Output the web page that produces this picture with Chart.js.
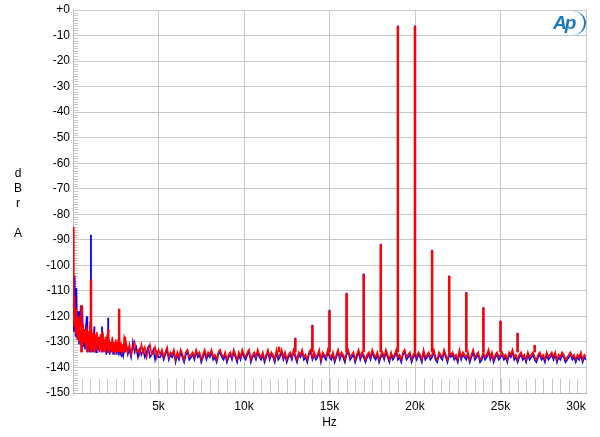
<!DOCTYPE html>
<html>
<head>
<meta charset="utf-8">
<script src="https://cdn.jsdelivr.net/npm/chart.js@4.4.1/dist/chart.umd.min.js"></script>
<style>
  html, body { margin: 0; padding: 0; background: #fff; }
  #wrap { position: relative; width: 600px; height: 437px; }
  #ylabel { position: absolute; left: 10px; top: 166px; width: 16px; text-align: center;
            font: 12px Arial, "Liberation Sans", sans-serif; line-height: 15px; color: #000; }
  #logo { position: absolute; left: 553px; top: 12px; width: 30px; height: 22px; color: #1b78c0;
          font: italic bold 19px Arial, "Liberation Sans", sans-serif; letter-spacing: -2px; line-height: 22px; }
  #logo::after { content: ''; position: absolute; left: 7px; top: -1px; width: 24px; height: 24px;
                 border-right: 2px solid #1b78c0; border-radius: 50%; }
</style>
</head>
<body>
<div id="wrap">
  <canvas id="myChart" width="600" height="437"></canvas>
  <div id="ylabel">d<br>B<br>r<br><br>A</div>
  <div id="logo">Ap</div>
</div>
<script>
// FFT noise floor, 0 - 3 kHz in 50 Hz bins
const lowStep = 50
const blueLow = [-112,-126,-104,-128,-109,-129,-118,-131,-122,-116,-132,-116,-132,-125,-133,-124,-120,-133,-126,-134,
  -128,-127,-131,-134,-126,-132,-128,-134,-127,-133,-129,-134,-128,-133,-127,-134,-130,-133,-129,-135,
  -128,-134,-130,-135,-131,-134,-129,-135,-131,-134,-130,-135,-132,-134,-131,-135,-132,-136,-131,-135,-133]
const redLow = [-85,-124,-112,-127,-117,-129,-120,-130,-121,-131,-122,-132,-123,-130,-125,-132,-124,-131,-126,-133,
  -122,-127,-127,-133,-125,-132,-127,-133,-126,-132,-128,-134,-127,-133,-126,-133,-129,-134,-128,-133,
  -127,-134,-129,-133,-130,-134,-128,-134,-130,-135,-129,-134,-131,-134,-130,-133,-130,-135,-131,-134,-128]

// FFT noise floor, 3.1 - 30 kHz in 100 Hz bins
const highStart = 3100
const highStep = 100
const blueHigh = [
  -131,-135,-133,-136,-130,-134,-132,-136,-133,-135,
  -133,-136,-134,-132,-136,-135,-133,-137,-134,-136,
  -136,-134,-137,-135,-133,-137,-135,-136,-134,-138,
  -135,-137,-134,-136,-138,-135,-134,-137,-136,-135,
  -137,-134,-136,-135,-138,-136,-134,-137,-135,-136,
  -134,-137,-136,-138,-135,-134,-136,-137,-135,-138,
  -136,-135,-137,-134,-136,-138,-135,-137,-134,-136,
  -137,-135,-134,-138,-136,-135,-137,-134,-136,-137,
  -135,-138,-136,-134,-137,-135,-136,-138,-134,-137,
  -136,-134,-137,-135,-138,-136,-135,-137,-134,-136,
  -138,-135,-136,-134,-137,-136,-138,-135,-134,-137,
  -135,-137,-136,-134,-138,-135,-136,-137,-134,-136,
  -137,-135,-138,-136,-134,-137,-135,-136,-138,-135,
  -134,-137,-136,-135,-138,-136,-134,-137,-135,-136,
  -138,-136,-135,-137,-134,-136,-137,-135,-138,-136,
  -135,-137,-134,-136,-138,-135,-137,-136,-134,-137,
  -136,-138,-135,-134,-137,-136,-135,-138,-136,-135,
  -137,-135,-136,-138,-134,-137,-136,-135,-137,-136,
  -134,-137,-138,-135,-136,-137,-134,-136,-138,-135,
  -136,-135,-137,-136,-138,-134,-137,-135,-136,-137,
  -135,-138,-136,-134,-137,-136,-135,-138,-137,-135,
  -137,-136,-134,-137,-135,-138,-136,-135,-137,-136,
  -135,-137,-136,-138,-135,-136,-134,-137,-136,-138,
  -136,-135,-137,-136,-138,-135,-137,-136,-135,-137,
  -138,-136,-135,-137,-136,-138,-135,-137,-136,-135,
  -137,-135,-138,-136,-137,-135,-136,-138,-137,-136,
  -135,-137,-136,-138,-136,-137,-135,-138,-136,-137]
const redHigh = [
  -130,-134,-131,-135,-132,-130,-134,-133,-135,-131,
  -134,-132,-136,-133,-131,-135,-134,-132,-136,-133,
  -135,-133,-136,-134,-132,-136,-134,-135,-133,-137,
  -134,-136,-133,-135,-137,-134,-133,-136,-135,-134,
  -136,-133,-135,-134,-137,-135,-133,-136,-134,-135,
  -133,-136,-135,-137,-134,-133,-135,-136,-134,-137,
  -135,-134,-136,-133,-135,-137,-134,-136,-133,-135,
  -136,-134,-133,-137,-135,-134,-136,-133,-135,-136,
  -134,-137,-135,-133,-136,-134,-135,-137,-133,-136,
  -135,-133,-136,-134,-137,-135,-134,-136,-133,-135,
  -137,-134,-135,-133,-136,-135,-137,-134,-133,-136,
  -134,-136,-135,-133,-137,-134,-135,-136,-133,-135,
  -136,-134,-137,-135,-133,-136,-134,-135,-137,-134,
  -133,-136,-135,-134,-137,-135,-133,-136,-134,-135,
  -137,-135,-134,-136,-133,-135,-136,-134,-137,-135,
  -134,-136,-133,-135,-137,-134,-136,-135,-133,-136,
  -135,-137,-134,-133,-136,-135,-134,-137,-135,-134,
  -136,-134,-135,-137,-133,-136,-135,-134,-136,-135,
  -133,-136,-137,-134,-135,-136,-133,-135,-137,-134,
  -135,-134,-136,-135,-137,-133,-136,-134,-135,-136,
  -134,-137,-135,-133,-136,-135,-134,-137,-136,-134,
  -136,-135,-133,-136,-134,-137,-135,-134,-136,-135,
  -134,-136,-135,-137,-134,-135,-133,-136,-135,-137,
  -135,-134,-136,-135,-137,-134,-136,-135,-134,-136,
  -137,-135,-134,-136,-135,-137,-134,-136,-135,-134,
  -136,-134,-137,-135,-136,-134,-135,-137,-136,-135,
  -134,-136,-135,-137,-135,-136,-134,-137,-135,-136]

// tones and intermodulation products
const spikeHz = [500, 840, 1050, 1250, 1700, 2060, 2700, 3040, 12050, 13000, 14000, 15000, 16000,
  17000, 18000, 19000, 20000, 21000, 22000, 23000, 24000, 25000, 26000, 27000]
const blueSpike = [-116, -120, -88, -124, -124, -120.5, -128, -131, -132.5, -128.4, -123.3, -117.4, -110.7,
  -103.2, -91.5, -6.1, -6.1, -93.9, -104, -110.4, -116.4, -121.6, -126.4, -131.5]
const redSpike = [-115.5, -126, -105.5, -128, -127, -125, -117, -128, -131.9, -128.6, -123.6, -117.8, -111,
  -103.5, -91.8, -6.3, -6.3, -94.2, -104.2, -110.6, -116.6, -121.8, -126.6, -131.2]
const SPIKE_BASE = -134

const yTicks = [0, -10, -20, -30, -40, -50, -60, -70, -80, -90, -100, -110, -120, -130, -140, -150]
const xTickLabels = { 5000: '5k', 10000: '10k', 15000: '15k', 20000: '20k', 25000: '25k', 30000: '30k      ' }

function floorPoints(low, high) {
  const pts = []
  low.forEach((v, i) => pts.push({ x: i * lowStep, y: v }))
  high.forEach((v, i) => pts.push({ x: highStart + i * highStep, y: v }))
  return pts
}

function spikePoints(peaks) {
  const pts = []
  spikeHz.forEach((f, i) => {
    pts.push({ x: f, y: SPIKE_BASE }, { x: f, y: peaks[i] }, { x: f, y: null })
  })
  return pts
}

const minorTicks = {
  id: 'minorTicks',
  beforeDatasetsDraw(chart) {
    const { ctx, scales: { x, y } } = chart
    ctx.save()
    ctx.strokeStyle = '#c8c8c8'
    ctx.lineWidth = 1
    ctx.beginPath()
    const yb = y.getPixelForValue(-150), yt = y.getPixelForValue(-144.5)
    for (let f = 500; f < 30000; f += 500) {
      const px = Math.round(x.getPixelForValue(f)) + 0.5
      ctx.moveTo(px, yb)
      ctx.lineTo(px, yt)
    }
    const xl = x.getPixelForValue(0), xr = x.getPixelForValue(310)
    for (let d = -149; d < 0; d++) {
      if (d % 10 === 0) continue
      const py = Math.round(y.getPixelForValue(d)) + 0.5
      ctx.moveTo(xl, py)
      ctx.lineTo(xr, py)
    }
    ctx.stroke()
    ctx.restore()
  }
}

const font = { family: 'Arial, "Liberation Sans", sans-serif', size: 12 }

new Chart(document.getElementById('myChart'), {
  type: 'line',
  data: {
    datasets: [
      { data: spikePoints(redSpike), borderColor: '#ff0000', borderWidth: 2.5, order: 0 },
      { data: floorPoints(redLow, redHigh), borderColor: '#ff0000', borderWidth: 1.5, order: 1 },
      { data: spikePoints(blueSpike), borderColor: '#0000ff', borderWidth: 1.8, order: 2 },
      { data: floorPoints(blueLow, blueHigh), borderColor: '#0000ff', borderWidth: 1.5, order: 3 }
    ]
  },
  options: {
    responsive: false,
    animation: false,
    layout: { padding: { top: 10, right: 14, left: 0, bottom: 0 } },
    elements: { point: { radius: 0 }, line: { tension: 0 } },
    plugins: { legend: { display: false }, tooltip: { enabled: false } },
    scales: {
      x: {
        type: 'linear',
        min: 0,
        max: 30000,
        afterFit(scale) {
          scale.height = 44
          scale.paddingLeft = 0
          scale.paddingRight = 0
        },
        grid: { color: '#c8c8c8', drawTicks: false },
        border: { color: '#b4b4b4' },
        ticks: {
          stepSize: 5000,
          padding: 6,
          maxRotation: 0,
          color: '#000',
          font: font,
          callback: v => xTickLabels[v] || ''
        },
        title: { display: true, text: 'Hz', color: '#000', font: font, padding: { top: 0, bottom: 7 } }
      },
      y: {
        min: -150,
        max: 0,
        afterFit(scale) {
          scale.width = 73
          scale.paddingTop = 0
          scale.paddingBottom = 0
        },
        afterBuildTicks(scale) { scale.ticks = yTicks.map(v => ({ value: v })) },
        grid: { color: '#c8c8c8', drawTicks: false },
        border: { color: '#b4b4b4' },
        ticks: {
          padding: 3,
          color: '#000',
          font: font,
          callback: v => v === 0 ? '+0' : String(v)
        }
      }
    }
  },
  plugins: [minorTicks]
})
</script>
</body>
</html>
